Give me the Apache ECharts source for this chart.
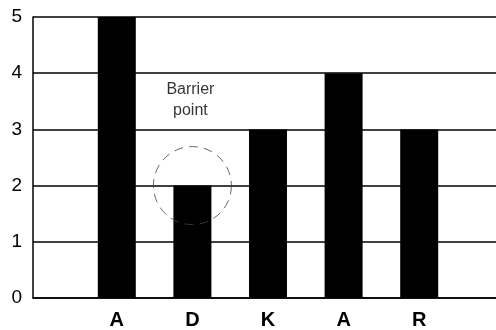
<!DOCTYPE html>
<html><head><meta charset="utf-8">
<script src="https://cdn.jsdelivr.net/npm/echarts@6/dist/echarts.min.js"></script>
<style>html,body{margin:0;padding:0;background:#fff}#c{width:496px;height:330px}</style>
</head><body><div id="c"></div>
<script>
const categories = ['A', 'D', 'K', 'A', 'R'];
const values = [5, 2, 3, 4, 3];
const yTicks = [0, 1, 2, 3, 4, 5];
const annotationText = 'Barrier\npoint';
const annotationIndex = 1;
const annotationTextY = 3.52;

const chart = echarts.init(document.getElementById('c'), null, {renderer: 'canvas'});
const font = 'Liberation Sans, Arial, sans-serif';
chart.setOption({
  animation: false,
  backgroundColor: '#fff',
  grid: [
    {left: 33, right: 0, top: 17, bottom: 32},
    {left: 79, right: 39, top: 17, bottom: 32}
  ],
  xAxis: [
    {gridIndex: 0, type: 'value', min: 0, max: 1, axisLine: {show: true, lineStyle: {color: '#000', width: 1.5}},
     axisTick: {show: false}, axisLabel: {show: false}, splitLine: {show: false}},
    {gridIndex: 1, type: 'category', data: categories, boundaryGap: true,
     axisLine: {show: false}, axisTick: {show: false},
     axisLabel: {fontFamily: font, fontSize: 20, fontWeight: 'bold', color: '#000', margin: 12}}
  ],
  yAxis: [
    {gridIndex: 0, type: 'value', min: yTicks[0], max: yTicks[yTicks.length - 1], interval: 1,
     axisLine: {show: true, lineStyle: {color: '#000', width: 1.5}}, axisTick: {show: false},
     axisLabel: {fontFamily: font, fontSize: 19, color: '#000', margin: 11},
     splitLine: {show: true, lineStyle: {color: '#000', width: 1.5}}},
    {gridIndex: 1, type: 'value', min: yTicks[0], max: yTicks[yTicks.length - 1], interval: 1,
     show: false}
  ],
  series: [
    {type: 'bar', xAxisIndex: 1, yAxisIndex: 1, data: values, barWidth: 38,
     itemStyle: {color: '#000'}, z: 3},
    {type: 'scatter', xAxisIndex: 1, yAxisIndex: 1,
     data: [[annotationIndex, values[annotationIndex]]],
     symbol: 'circle', symbolSize: 78,
     itemStyle: {color: 'rgba(0,0,0,0)', borderColor: '#444', borderWidth: 1, borderType: [9, 6]},
     silent: true, z: 4},
    {type: 'scatter', xAxisIndex: 1, yAxisIndex: 1,
     data: [[annotationIndex, annotationTextY]],
     symbolSize: 0,
     label: {show: true, position: 'inside', formatter: annotationText, fontFamily: font,
             fontSize: 16, lineHeight: 21, color: '#000', offset: [-2, 0]},
     silent: true, z: 5}
  ]
});
</script></body></html>
